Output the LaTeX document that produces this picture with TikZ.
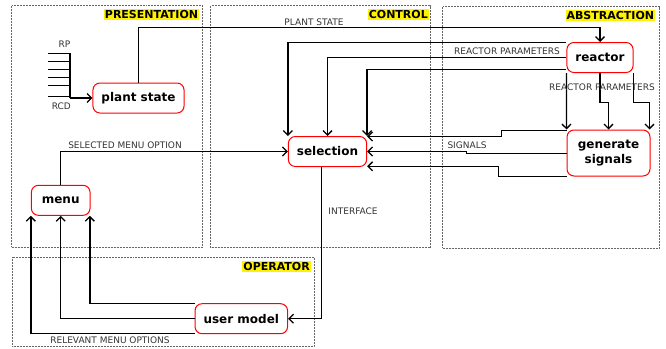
\documentclass[tikz,border=0pt]{standalone}
\usepackage{fontspec}
\setmainfont{DejaVu Sans}
\usepackage{tikz}
\usetikzlibrary{arrows.meta}
\tikzset{
	block/.style={draw=red, line width=1pt, rounded corners=7pt, fill=white, minimum height=30pt, inner xsep=8.5pt, font=\bfseries\fontsize{12}{15.5}\selectfont},
	region/.style={draw=black!60, densely dotted, line width=0.5pt},
	tag/.style={fill=yellow, anchor=north east, inner xsep=1pt, inner ysep=1.2pt, text height=8pt, text depth=0.6pt, font=\bfseries\fontsize{11}{12}\selectfont},
	lbl/.style={text=black!80, inner sep=0pt, font=\fontsize{9}{10}\selectfont},
	conn/.style={line width=1.3pt, -{Straight Barb[length=4.5pt,width=9pt,line width=1.3pt]}}
}

\begin{document}
\begin{tikzpicture}[x=1pt, y=-1pt]
			%%%%% START %%%%%
			\useasboundingbox (0, 0) rectangle (666, 348);
			
			\draw[region] (11.5, 5.5) rectangle (202, 247);
			\draw[region] (210.5, 5.5) rectangle (430.5, 247.5);
			\draw[region] (442.5, 6.5) rectangle (659, 248);
			\draw[region] (12.5, 257) rectangle (314, 346);
			
			\node[tag] (tpres) at (199.3, 9) {PRESENTATION};
			\node[tag] (tctrl) at (429, 9) {CONTROL};
			\node[tag] (tabst) at (655.3, 10) {ABSTRACTION};
			\node[tag] (toper) at (311, 260.7) {OPERATOR};
			
			\node[block] (plantstate) at (138.5, 98) {plant state};
			\node[block] (selection) at (327.5, 151.5) {selection};
			\node[block] (reactor) at (600, 57.5) {reactor};
			\node[block, align=center, minimum width=83pt, minimum height=46pt] (generate) at (608.5, 153) {generate\\signals};
			\node[block, minimum width=58.7pt] (menu) at (60.7, 200.3) {menu};
			\node[block] (usermodel) at (241.3, 318.7) {user model};
			
			% comb RP / RCD
			\foreach \y in {53.3, 61.3, 69.3, 77.3, 85.3, 96.5}
				\draw[line width=1.1pt] (48.3, \y) -- (70, \y);
			\coordinate (combtop) at (70, 53.3);
			\coordinate (comb) at (70, 98);
			\draw[line width=1.1pt] (combtop) -- (comb);
			\draw[conn, line width=2pt] (comb) -- (plantstate.west);
			\node[lbl] (lrp) at (64.5, 44) {RP};
			\node[lbl] (lrcd) at (61.3, 106) {RCD};
			
			% plant state -> reactor
			\draw[conn] (plantstate.north) |- ([yshift=14.6pt]reactor.north) -- (reactor.north);
			\node[lbl] (lplant) at (314, 22) {PLANT STATE};
			
			% reactor -> selection
			\draw[conn] ([yshift=-0.5pt]reactor.north west) -| (selection.north west);
			\draw[conn] (reactor.west) -| (selection.north);
			\draw[conn] ([yshift=3.7pt]reactor.south west) -| (selection.north east);
			\node[lbl] (lrpar) at (507, 51) {REACTOR PARAMETERS};
			
			% reactor -> generate signals
			\draw[conn] (reactor.south west) -- (generate.north west);
			\draw[conn] (reactor.south) -- ++(0, 29.6) -| (generate.north);
			\draw[conn] ([xshift=-0.4pt]reactor.south east) -- ++(0, 29.6) -| ([xshift=-1pt]generate.north east);
			\node[lbl] (lrpar2) at (602, 87) {REACTOR PARAMETERS};
			
			% generate signals -> selection
			\draw[conn] ([yshift=-0.7pt]generate.north west) -- ++(-65.3, 0) |- ([yshift=-0.5pt]selection.north east);
			\draw[conn] ([yshift=-0.3pt]generate.west) -- ++(-100.3, 0) |- (selection.east);
			\draw[conn] (generate.south west) -- ++(-67.7, 0) |- ([yshift=0.7pt]selection.south east);
			\node[lbl] (lsig) at (467, 145) {SIGNALS};
			
			% menu -> selection
			\draw[conn] (menu.north) |- (selection.west);
			\node[lbl] (lsel) at (125, 145) {SELECTED MENU OPTION};
			
			% selection -> user model
			\draw[conn] ([xshift=-5.8pt]selection.south) |- (usermodel.east);
			\node[lbl] (lint) at (353, 211.7) {INTERFACE};
			
			% user model -> menu
			\draw[conn] (usermodel.north west) -| ([xshift=-0.7pt]menu.south east);
			\draw[conn] (usermodel.west) -| (menu.south);
			\draw[conn] ([yshift=0.7pt]usermodel.south west) -| (menu.south west);
			\node[lbl] (lrel) at (110, 340.5) {RELEVANT MENU OPTIONS};
			
			%%%%% END %%%%%
		\end{tikzpicture}
\end{document}
